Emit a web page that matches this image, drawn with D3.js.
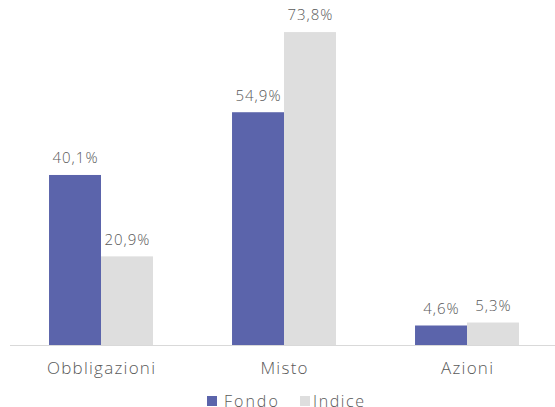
<!DOCTYPE html>
<html>
<head>
<meta charset="utf-8">
<script src="https://cdn.jsdelivr.net/npm/d3@7"></script>
<style>
  body { margin: 0; background: #fff; }
  svg text { font-family: "Open Sans", Lato, sans-serif; fill: #595959; font-weight: 300; }
</style>
</head>
<body>
<svg id="chart"></svg>
<script>
var categories = ["Obbligazioni", "Misto", "Azioni"];
var seriesNames = ["Fondo", "Indice"];
var fondo = [40.1, 54.9, 4.6];
var indice = [20.9, 73.8, 5.3];
var colors = ["#5b64ab", "#dedede"];

var dimensions = {
    width: 555,
    height: 407,
    margin: { top: 10, bottom: 62, left: 9.5, right: -3.5 }
}

var svg = d3.select("#chart")
            .attr("width", dimensions.width)
            .attr("height", dimensions.height)

var data = categories.map(function(c, i){
    return { cat: c, values: [fondo[i], indice[i]] };
});

var xScale = d3.scaleBand()
               .domain(categories)
               .range([dimensions.margin.left, dimensions.width - dimensions.margin.right])
               .paddingInner(0.432)
               .paddingOuter(0.216)

var xSub = d3.scaleBand()
             .domain(seriesNames)
             .range([0, xScale.bandwidth()])

var baseY = dimensions.height - dimensions.margin.bottom;
var yScale = d3.scaleLinear()
               .domain([0, 80])
               .range([baseY, baseY - 80 * 4.24])

var groups = svg.append("g")
                .selectAll("g")
                .data(data)
                .enter()
                .append("g")
                .attr("transform", function(d){ return "translate(" + xScale(d.cat) + ",0)" })

groups.selectAll("rect")
      .data(function(d){ return d.values.map(function(v, i){ return { s: seriesNames[i], v: v, i: i } }) })
      .enter()
      .append("rect")
      .attr("x", function(d){ return xSub(d.s) })
      .attr("y", function(d){ return yScale(d.v) })
      .attr("width", xSub.bandwidth())
      .attr("height", function(d){ return yScale(0) - yScale(d.v) })
      .style("fill", function(d){ return colors[d.i] })

groups.selectAll("text.val")
      .data(function(d){ return d.values.map(function(v, i){ return { s: seriesNames[i], v: v } }) })
      .enter()
      .append("text")
      .attr("class", "val")
      .attr("x", function(d){ return xSub(d.s) + xSub.bandwidth() / 2 + 0.5 })
      .attr("y", function(d){ return yScale(d.v) - 11.7 })
      .attr("text-anchor", "middle")
      .style("font-size", "15px")
      .style("letter-spacing", "1px")
      .text(function(d){ return d.v.toFixed(1).replace(".", ",") + "%" })

// axis line
svg.append("line")
   .attr("x1", 10)
   .attr("x2", 555)
   .attr("y1", baseY + 0.5)
   .attr("y2", baseY + 0.5)
   .style("stroke", "#d9d9d9")
   .style("stroke-width", 1)

var xAxis = svg.append("g")
               .attr("transform", "translate(0," + baseY + ")")
               .call(d3.axisBottom(xScale).tickSize(0).tickPadding(0))
xAxis.select(".domain").remove();
xAxis.selectAll("text")
     .attr("y", 29.3)
     .attr("dy", 0)
     .attr("x", 0.6)
     .style("font-size", "17px")
     .style("letter-spacing", "1.25px")
     .style("fill", "#595959")

// legend
var legendX = [207, 300];
var legend = svg.append("g")
                .selectAll("g")
                .data(seriesNames)
                .enter()
                .append("g")
                .attr("transform", function(d, i){ return "translate(" + legendX[i] + ",396)" })
legend.append("rect")
      .attr("width", 10)
      .attr("height", 10)
      .style("fill", function(d, i){ return colors[i] })
legend.append("text")
      .attr("x", function(d, i){ return i === 0 ? 17 : 13 })
      .attr("y", 10.5)
      .style("font-size", "16px")
      .style("letter-spacing", function(d, i){ return i === 0 ? "2px" : "1.6px" })
      .text(function(d){ return d })
</script>
</body>
</html>
